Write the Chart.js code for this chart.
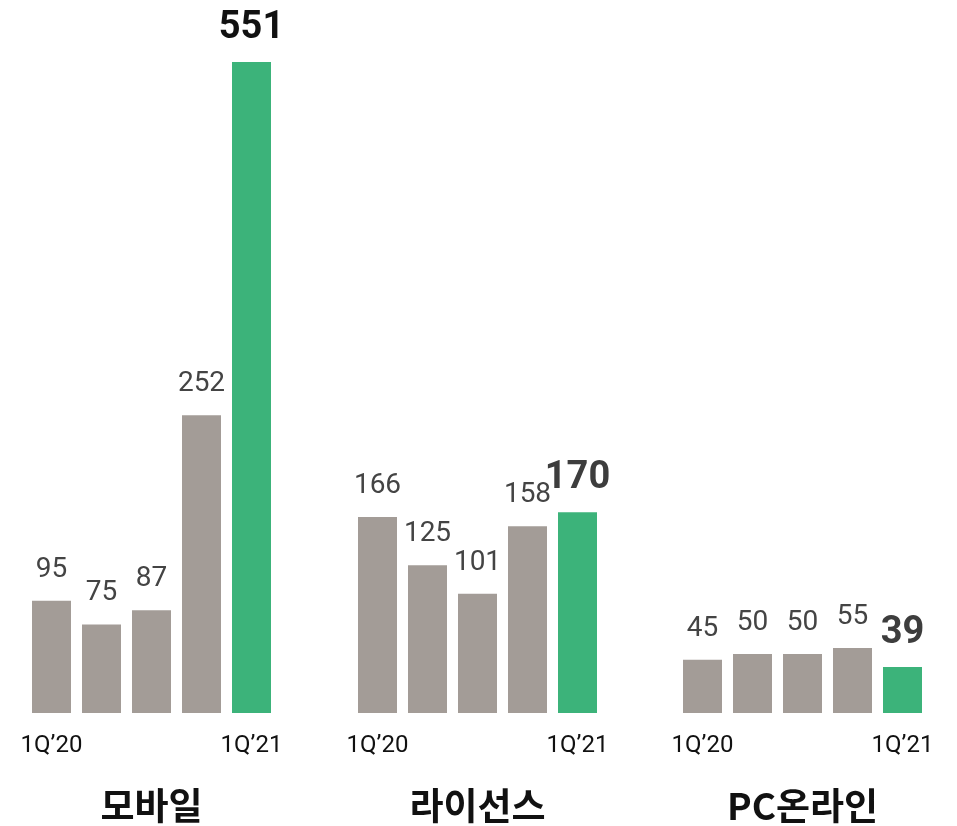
<!DOCTYPE html>
<html>
<head>
<meta charset="utf-8">
<script src="https://cdn.jsdelivr.net/npm/chart.js@4.4.1/dist/chart.umd.min.js"></script>
<style>
    html, body { margin: 0; padding: 0; background: #fff; }
    #wrap { position: relative; width: 957px; height: 826px; }
    #wrap canvas { position: absolute; top: 0; }
</style>
</head>
<body>
<div id="wrap">
    <canvas id="chart-0" width="300" height="826" style="left:0px"></canvas>
    <canvas id="chart-1" width="300" height="826" style="left:326px"></canvas>
    <canvas id="chart-2" width="300" height="826" style="left:651px"></canvas>
</div>
<script>
const quarters = ['1Q’20', '2Q’20', '3Q’20', '4Q’20', '1Q’21'];
const segments = ['모바일', '라이선스', 'PC온라인'];
const mobileValues = [95, 75, 87, 252, 551];
const licenseValues = [166, 125, 101, 158, 170];
const pcValues = [45, 50, 50, 55, 39];

const GRAY = '#a39c97';
const GREEN = '#3cb37a';
const FONT = "Roboto, 'Noto Sans CJK KR', sans-serif";

// value labels above the bars; the latest quarter is bold
const valueLabels = {
    id: 'valueLabels',
    afterDatasetsDraw(chart) {
        const ctx = chart.ctx;
        const meta = chart.getDatasetMeta(0);
        const values = chart.data.datasets[0].data;
        const last = values.length - 1;
        ctx.save();
        ctx.textAlign = 'center';
        ctx.textBaseline = 'alphabetic';
        meta.data.forEach((bar, i) => {
            if (i === last) {
                ctx.font = 'bold 38px ' + FONT;
                ctx.fillStyle = chart.canvas.id === 'chart-0' ? '#111' : '#3d3d3d';
                ctx.fillText(values[i], bar.x, bar.y - 24);
            } else {
                ctx.font = '28px ' + FONT;
                ctx.fillStyle = '#444';
                ctx.fillText(values[i], bar.x, bar.y - 24);
            }
        });
        ctx.restore();
    }
};

function makeChart(idx, values) {
    const ctx = document.getElementById(`chart-${idx}`).getContext('2d');
    new Chart(ctx, {
        type: 'bar',
        data: {
            labels: quarters,
            datasets: [{
                data: values,
                backgroundColor: values.map((v, i) => i === values.length - 1 ? GREEN : GRAY),
                barPercentage: 0.78,
                categoryPercentage: 1.0
            }]
        },
        options: {
            responsive: false,
            animation: false,
            layout: {
                autoPadding: false,
                padding: { left: 26.5, right: 23.5, top: 0, bottom: 0 }
            },
            plugins: {
                legend: { display: false },
                tooltip: { enabled: false }
            },
            scales: {
                y: {
                    display: false,
                    min: 0,
                    max: 603.5
                },
                x: {
                    grid: { display: false, drawTicks: false },
                    border: { display: false },
                    ticks: {
                        autoSkip: false,
                        maxRotation: 0,
                        padding: 19,
                        color: '#111',
                        font: { family: FONT, size: 24 },
                        callback: (val, i) => (i === 0 || i === quarters.length - 1) ? quarters[i] : ''
                    },
                    title: {
                        display: true,
                        text: segments[idx],
                        color: '#111',
                        padding: { top: 0, bottom: -2 },
                        font: { family: "'Noto Sans CJK KR', " + FONT, size: 37, weight: 'bold' }
                    },
                    afterFit: scale => {
                        // keep the tick labels from squeezing the plot area
                        scale.height = 113;
                        scale.paddingLeft = 0;
                        scale.paddingRight = 0;
                    }
                }
            }
        },
        plugins: [valueLabels]
    });
}

makeChart(0, mobileValues);
makeChart(1, licenseValues);
makeChart(2, pcValues);
</script>
</body>
</html>
